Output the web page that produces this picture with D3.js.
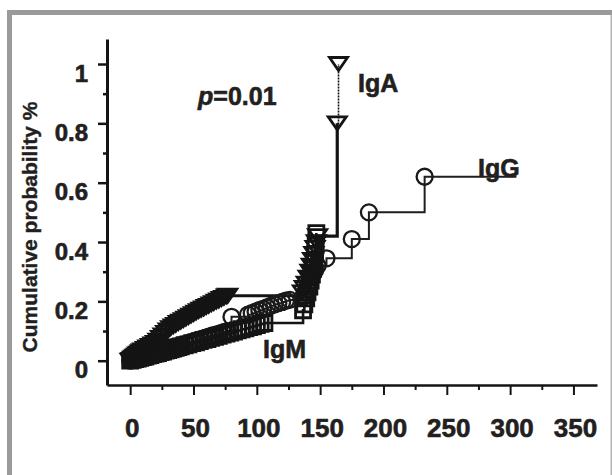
<!DOCTYPE html>
<html>
<head>
<meta charset="utf-8">
<script src="https://cdn.jsdelivr.net/npm/d3@7"></script>
<style>
  html, body { margin: 0; padding: 0; background: #fff; }
  svg { display: block; }
  text { font-family: "Liberation Sans", Arial, Helvetica, sans-serif; font-weight: bold; fill: #231f20; }
</style>
</head>
<body>
<svg id="chart" width="612" height="475"></svg>
<script>
// ---- data ----
const xTicks = [0, 50, 100, 150, 200, 250, 300, 350];
const xMinorTicks = [25, 75, 125, 175, 225, 275, 325];
const yTicks = [0, 0.2, 0.4, 0.6, 0.8, 1];
const yMinorTicks = [0.1, 0.3, 0.5, 0.7, 0.9];

const igaTime = [0, 1, 2, 3, 4, 5, 6, 7, 8, 9, 10, 12, 14, 16, 18, 20, 22, 24, 26, 28, 30, 32, 34, 36, 38, 40, 42, 44, 46, 48, 50, 52, 54, 56, 58, 60, 62, 64, 66, 68, 70, 72, 74, 76, 77,
  136, 137.5, 139, 140.5, 142, 143, 144, 145, 146, 147, 148, 163.5, 164.5];
const igaProb = [0, 0.003, 0.007, 0.01, 0.014, 0.017, 0.021, 0.024, 0.028, 0.031, 0.035, 0.04, 0.045, 0.05, 0.055, 0.06, 0.068, 0.077, 0.085, 0.094, 0.102, 0.11, 0.116, 0.121, 0.127, 0.132, 0.137, 0.142, 0.147, 0.152, 0.157, 0.162, 0.167, 0.172, 0.176, 0.181, 0.185, 0.19, 0.194, 0.199, 0.203, 0.208, 0.212, 0.217, 0.219,
  0.23, 0.245, 0.26, 0.28, 0.30, 0.32, 0.34, 0.36, 0.38, 0.40, 0.42, 0.80, 1.0];

const igmTime = [0, 2, 4, 6, 8, 10, 12, 14, 16, 18, 20, 22, 24, 26, 28, 30, 32, 34, 36, 38, 40, 43, 46, 49, 52, 55, 58, 61, 64, 67, 70, 73, 76, 79, 82, 85, 88, 91, 94, 97, 100, 103, 106,
  136.5, 137.5, 139, 140, 141.5, 142.5, 143.5, 144.5, 145.5, 146, 146.5, 147];
const igmProb = [0, 0.003, 0.005, 0.007, 0.01, 0.012, 0.014, 0.017, 0.019, 0.022, 0.024, 0.026, 0.029, 0.031, 0.034, 0.036, 0.038, 0.041, 0.043, 0.046, 0.048, 0.052, 0.055, 0.059, 0.062, 0.066, 0.07, 0.073, 0.077, 0.08, 0.084, 0.088, 0.091, 0.095, 0.098, 0.102, 0.106, 0.109, 0.113, 0.116, 0.12, 0.124, 0.127,
  0.17, 0.19, 0.21, 0.23, 0.25, 0.27, 0.29, 0.31, 0.33, 0.36, 0.39, 0.43];

const iggTime = [0, 1.5, 3, 4.5, 6, 7.5, 9, 11, 13, 15, 17, 19, 21, 23, 25, 27, 29, 31, 33, 35, 37, 39, 41, 44, 47, 50, 53, 56, 59, 62, 65, 68, 71, 74, 77, 80,
  93, 96, 99, 102, 105, 108, 111, 114, 117, 120, 123, 126,
  136.5, 138, 140, 142, 144, 146, 148, 155, 175, 188.5, 232.5];
const iggProb = [0, 0.002, 0.004, 0.006, 0.008, 0.01, 0.012, 0.014, 0.017, 0.02, 0.022, 0.025, 0.027, 0.03, 0.033, 0.035, 0.038, 0.04, 0.043, 0.046, 0.048, 0.051, 0.053, 0.057, 0.061, 0.065, 0.069, 0.073, 0.077, 0.081, 0.085, 0.088, 0.092, 0.096, 0.1, 0.148,
  0.155, 0.16, 0.165, 0.17, 0.175, 0.18, 0.185, 0.19, 0.194, 0.198, 0.202, 0.205,
  0.215, 0.23, 0.25, 0.27, 0.29, 0.305, 0.32, 0.345, 0.41, 0.50, 0.62];
const iggEndTime = 305;

const seriesLabels = ["IgA", "IgG", "IgM"];
const pText = "=0.01";

// ---- layout ----
const svg = d3.select("#chart");
const x = d3.scaleLinear().domain([-18.3, 368.6]).range([107, 597]);
const y = d3.scaleLinear().domain([-0.0819, 1.0843]).range([385, 39]);
const ink = "#141414";
const txt = "#231f20";

// frame
svg.append("rect").attr("x", 7).attr("y", 10).attr("width", 605).attr("height", 5).attr("fill", "#9a9a9a");
svg.append("rect").attr("x", 7).attr("y", 10).attr("width", 5).attr("height", 465).attr("fill", "#9a9a9a");
svg.append("rect").attr("x", 610.5).attr("y", 15).attr("width", 1.5).attr("height", 460).attr("fill", "#b3b3b3");

function heavy(sel) {
  sel.attr("fill", txt).attr("stroke", txt).attr("stroke-width", 0.6)
    .style("font-family", "'Liberation Sans', Arial, sans-serif").style("font-weight", "bold");
}

// axes
const yAxis = svg.append("g").attr("transform", "translate(107,0)")
  .call(d3.axisLeft(y).tickValues(yTicks).tickSize(9).tickSizeOuter(0).tickPadding(10).tickFormat(d => String(d)));
const yMinor = svg.append("g").attr("transform", "translate(107,0)")
  .call(d3.axisLeft(y).tickValues(yMinorTicks).tickSize(4).tickSizeOuter(0).tickFormat(""));
yMinor.select(".domain").remove();
yAxis.select(".domain").attr("stroke", ink).attr("stroke-width", 3);
yAxis.selectAll(".tick line").attr("stroke", ink).attr("stroke-width", 2.5);
yMinor.selectAll(".tick line").attr("stroke", ink).attr("stroke-width", 2.5);
yAxis.selectAll(".tick text").attr("font-size", 24).attr("dy", 17).call(heavy);

const xAxis = svg.append("g").attr("transform", "translate(0,385)")
  .call(d3.axisBottom(x).tickValues(xTicks).tickSize(10).tickSizeOuter(0));
const xMinor = svg.append("g").attr("transform", "translate(0,385)")
  .call(d3.axisBottom(x).tickValues(xMinorTicks).tickSize(5).tickSizeOuter(0).tickFormat(""));
xMinor.select(".domain").remove();
xAxis.select(".domain").attr("stroke", ink).attr("stroke-width", 2.5);
xAxis.selectAll(".tick line").attr("stroke", ink).attr("stroke-width", 2);
xMinor.selectAll(".tick line").attr("stroke", ink).attr("stroke-width", 2);
xAxis.selectAll(".tick text").attr("font-size", 26).attr("y", 52).attr("dy", 0).attr("dx", 1.5).call(heavy);

// axis title
svg.append("text")
  .attr("transform", "translate(37,227) rotate(-90)")
  .attr("text-anchor", "middle")
  .attr("font-size", 21)
  .text("Cumulative probability %")
  .call(heavy).attr("stroke-width", 0.4);

// ---- series ----
const step = d3.line().x(d => x(d[0])).y(d => y(d[1])).curve(d3.curveStepAfter);
const zip = (a, b) => a.map((v, i) => [v, b[i]]);

const iga = zip(igaTime, igaProb);
const igm = zip(igmTime, igmProb);
const igg = zip(iggTime, iggProb);

// IgG line (thinner)
svg.append("path").datum(igg.concat([[iggEndTime, iggProb[iggProb.length - 1]]]))
  .attr("d", step).attr("fill", "none").attr("stroke", "#1e1e1e").attr("stroke-width", 2);
// IgM line
svg.append("path").datum(igm)
  .attr("d", step).attr("fill", "none").attr("stroke", ink).attr("stroke-width", 2.6);
// IgA line: thick up to 0.8, thin dotted last step
svg.append("path").datum(iga.slice(0, iga.length - 1))
  .attr("d", step).attr("fill", "none").attr("stroke", ink).attr("stroke-width", 3.2);
svg.append("path").datum(iga.slice(iga.length - 2))
  .attr("d", step).attr("fill", "none").attr("stroke", ink).attr("stroke-width", 1.6)
  .attr("stroke-dasharray", "2,1");

// markers
const circleSym = d3.symbol().type(d3.symbolCircle).size(Math.PI * 8 * 8);
const squareSym = d3.symbol().type(d3.symbolSquare).size(15 * 15);
const triDown = "M-9,-6.5L9,-6.5L0,6.5Z";

svg.append("g").selectAll("path").data(igg).join("path")
  .attr("transform", d => `translate(${x(d[0])},${y(d[1])})`)
  .attr("d", circleSym).attr("fill", "none").attr("stroke", "#1a1a1a").attr("stroke-width", 2.3);
svg.append("g").selectAll("path").data(igm).join("path")
  .attr("transform", d => `translate(${x(d[0])},${y(d[1])})`)
  .attr("d", squareSym).attr("fill", "none").attr("stroke", ink).attr("stroke-width", 2.8);
svg.append("g").selectAll("path").data(iga).join("path")
  .attr("transform", d => `translate(${x(d[0])},${y(d[1])})`)
  .attr("d", triDown).attr("fill", "none").attr("stroke", ink).attr("stroke-width", 2.8);

// labels
svg.append("text").attr("x", 358).attr("y", 92).attr("font-size", 25).text(seriesLabels[0]).call(heavy);
svg.append("text").attr("x", 478).attr("y", 177).attr("font-size", 25).text(seriesLabels[1]).call(heavy);
svg.append("text").attr("x", 263).attr("y", 358).attr("font-size", 25).text(seriesLabels[2]).call(heavy);

const pt = svg.append("text").attr("x", 198).attr("y", 105).attr("font-size", 25).call(heavy);
pt.append("tspan").attr("font-style", "italic").text("p");
pt.append("tspan").text(pText);
</script>
</body>
</html>
